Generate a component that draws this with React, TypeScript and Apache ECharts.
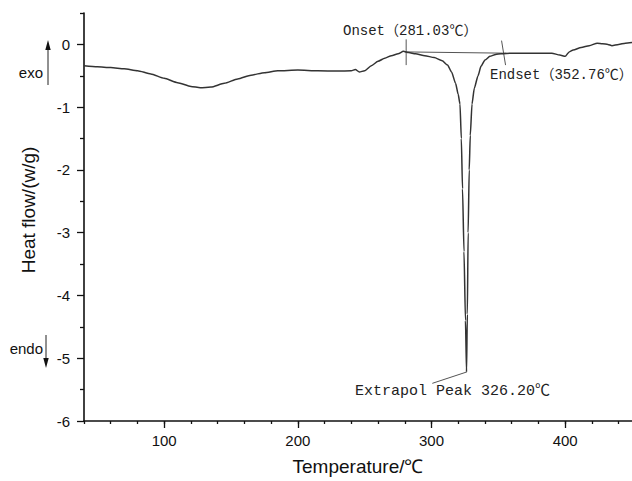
import React, { useEffect, useRef } from "react";
import * as echarts from "echarts";

const temperature = [40, 50, 60, 70, 80, 90, 100, 110, 120, 127, 135, 145, 155, 165, 175, 185, 200, 215, 230, 240, 243, 246, 250, 255, 260, 265, 270, 275, 279, 283, 288, 295, 302, 308, 312, 315, 318, 320, 321.3, 322.3, 323.2, 324.3, 325.4, 326.2, 326.8, 327.4, 328.2, 329, 330.3, 332, 334.8, 337, 340, 343.7, 348, 352, 360, 370, 380, 390, 396, 400, 403, 406, 412, 418, 424, 428, 432, 435, 440, 445, 450];
const heatFlow = [-0.34, -0.355, -0.37, -0.39, -0.42, -0.47, -0.54, -0.61, -0.67, -0.69, -0.68, -0.62, -0.55, -0.49, -0.45, -0.42, -0.41, -0.42, -0.425, -0.42, -0.4, -0.44, -0.42, -0.34, -0.27, -0.22, -0.18, -0.15, -0.11, -0.13, -0.15, -0.18, -0.21, -0.26, -0.33, -0.44, -0.62, -0.8, -0.95, -1.5, -2.3, -3.3, -4.4, -5.22, -4.3, -3.0, -2.0, -1.45, -0.95, -0.7, -0.5, -0.35, -0.25, -0.19, -0.16, -0.15, -0.14, -0.14, -0.14, -0.14, -0.17, -0.19, -0.12, -0.09, -0.05, -0.02, 0.02, 0.01, 0.0, -0.02, 0.0, 0.02, 0.03];

const xMajorTicks = [100, 200, 300, 400];
const xMinorTicks = [40, 60, 80, 100, 120, 140, 160, 180, 200, 220, 240, 260, 280, 300, 320, 340, 360, 380, 400, 420, 440];
const yMajorTicks = [-6, -5, -4, -3, -2, -1, 0];
const yMinorTicks = [-5.5, -4.5, -3.5, -2.5, -1.5, -0.5, 0.5];

const onsetTemp = 281.03;
const endsetTemp = 352.76;
const peakTemp = 326.2;

const onsetTick = [[281.03, 0.08], [281.03, -0.33]];
const endsetTick = [[352.4, 0.06], [355.4, -0.33]];
const baselineSeg = [[280, -0.12], [356, -0.14]];
const peakLeader = [[326.2, -5.22], [300.6, -5.4]];

const xTitle = "Temperature/\u2103";
const yTitle = "Heat flow/(w/g)";
const onsetLabel = "Onset\uFF08" + onsetTemp.toFixed(2) + "\u2103\uFF09";
const endsetLabel = "Endset\uFF08" + endsetTemp.toFixed(2) + "\u2103\uFF09";
const peakLabel = "Extrapol Peak " + peakTemp.toFixed(2) + "\u2103";

export default function App() {
  const ref = useRef<HTMLDivElement>(null);
  useEffect(() => {
    document.body.style.margin = "0";
    const chart = echarts.init(ref.current!, null, { renderer: "svg" });
    const curve = temperature.map((t, i) => [t, heatFlow[i]]);
    const sansFont = "'Liberation Sans', Arial, sans-serif";
    const monoFont = "'Liberation Mono', 'Noto Sans CJK SC', monospace";
    const annLine = (data: number[][]) => ({
      type: "line",
      data,
      showSymbol: false,
      symbol: "none",
      silent: true,
      lineStyle: { color: "#555", width: 1 },
      z: 3,
    });
    chart.setOption({
      animation: false,
      backgroundColor: "#fff",
      grid: { left: 84, right: 0, top: 13, bottom: 58, containLabel: false },
      xAxis: [
        {
          type: "value",
          min: 40,
          max: 450,
          position: "bottom",
          axisLine: { show: true, onZero: false, lineStyle: { color: "#111", width: 1.6 } },
          axisTick: { show: true, inside: false, length: 3, customValues: xMinorTicks, lineStyle: { color: "#111", width: 1.3 } },
          axisLabel: { show: true, customValues: xMajorTicks, margin: 12, color: "#111", fontSize: 15, fontFamily: sansFont },
          splitLine: { show: false },
          name: xTitle,
          nameLocation: "middle",
          nameGap: 36,
          nameTextStyle: { fontSize: 19, color: "#111", fontFamily: sansFont },
        },
        {
          type: "value",
          min: 40,
          max: 450,
          position: "bottom",
          axisLine: { show: false, onZero: false },
          axisTick: { show: true, inside: false, length: 7, customValues: xMajorTicks, lineStyle: { color: "#111", width: 1.3 } },
          axisLabel: { show: false },
          splitLine: { show: false },
        },
      ],
      yAxis: [
        {
          type: "value",
          min: -6,
          max: 0.5,
          position: "left",
          axisLine: { show: true, onZero: false, lineStyle: { color: "#111", width: 1.6 } },
          axisTick: { show: true, inside: false, length: 7, customValues: yMajorTicks, lineStyle: { color: "#111", width: 1.3 } },
          axisLabel: { show: true, customValues: yMajorTicks, margin: 14, color: "#111", fontSize: 15, fontFamily: sansFont },
          splitLine: { show: false },
        },
        {
          type: "value",
          min: -6,
          max: 0.5,
          position: "left",
          axisLine: { show: false, onZero: false },
          axisTick: { show: true, inside: false, length: 4, customValues: yMinorTicks, lineStyle: { color: "#111", width: 1.3 } },
          axisLabel: { show: false },
          splitLine: { show: false },
        },
      ],
      series: [
        {
          type: "line",
          data: curve,
          showSymbol: false,
          symbol: "none",
          smooth: 0.2,
          smoothMonotone: "x",
          lineStyle: { color: "#333", width: 1.5 },
          z: 4,
        },
        annLine(onsetTick),
        annLine(endsetTick),
        annLine(baselineSeg),
        annLine(peakLeader),
      ],
      graphic: [
        {
          type: "text",
          x: 28,
          y: 210,
          rotation: Math.PI / 2,
          style: { text: yTitle, fontSize: 19, fontFamily: sansFont, fill: "#111", textAlign: "center", textVerticalAlign: "middle" },
        },
        {
          type: "text",
          x: 43,
          y: 72,
          style: { text: "exo", fontSize: 15, fontFamily: sansFont, fill: "#111", textAlign: "right", textVerticalAlign: "middle" },
        },
        { type: "line", shape: { x1: 48, y1: 48, x2: 48, y2: 85 }, style: { stroke: "#222", lineWidth: 1 } },
        { type: "polygon", shape: { points: [[48, 40], [45.3, 50], [50.7, 50]] }, style: { fill: "#111" } },
        {
          type: "text",
          x: 43,
          y: 348,
          style: { text: "endo", fontSize: 15, fontFamily: sansFont, fill: "#111", textAlign: "right", textVerticalAlign: "middle" },
        },
        { type: "line", shape: { x1: 46, y1: 335, x2: 46, y2: 360 }, style: { stroke: "#222", lineWidth: 1 } },
        { type: "polygon", shape: { points: [[46, 368], [43.3, 358], [48.7, 358]] }, style: { fill: "#111" } },
        {
          type: "text",
          x: 343,
          y: 31,
          style: { text: onsetLabel, fontSize: 14, fontFamily: monoFont, fill: "#222", textAlign: "left", textVerticalAlign: "middle" },
        },
        {
          type: "text",
          x: 490,
          y: 75,
          style: { text: endsetLabel, fontSize: 14, fontFamily: monoFont, fill: "#222", textAlign: "left", textVerticalAlign: "middle" },
        },
        {
          type: "text",
          x: 355,
          y: 391,
          style: { text: peakLabel, fontSize: 15, fontFamily: monoFont, fill: "#222", textAlign: "left", textVerticalAlign: "middle" },
        },
      ],
    });
    return () => chart.dispose();
  }, []);
  return <div ref={ref} style={{ width: 632, height: 481 }} />;
}
